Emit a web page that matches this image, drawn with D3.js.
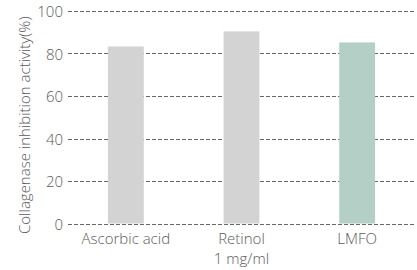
<!DOCTYPE html>
<html>
<head>
<meta charset="utf-8">
<script src="https://cdn.jsdelivr.net/npm/d3@7"></script>
<style>
  body { margin: 0; background: #fff; }
  text { font-family: "Open Sans", sans-serif; font-weight: 300; fill: #5a5a5a; }
</style>
</head>
<body>
<div id="vis"></div>
<script>
// Collagenase inhibition bar chart

var categories = ['Ascorbic acid', 'Retinol', 'LMFO'];
var values     = [83.3, 90.4, 85.2];
var yTicks     = [0, 20, 40, 60, 80, 100];
var xTitle     = '1 mg/ml';
var yTitle     = 'Collagenase inhibition activity(%)';

var W = 417, H = 270;
var margin = { top: 11, right: 2, bottom: 46.5, left: 68 };
var width  = W - margin.left - margin.right;
var height = H - margin.top  - margin.bottom;

var svg = d3.select('#vis').append('svg')
  .attr('width', W)
  .attr('height', H);

var vis = svg.append('g')
  .attr('transform', `translate(${margin.left},${margin.top})`);

var x = d3.scaleBand()
  .domain(categories)
  .range([0, width])
  .paddingInner(0.69)
  .paddingOuter(0.345);

var y = d3.scaleLinear()
  .domain([0, 100])
  .range([height, 0]);

// dashed gridlines
vis.append('g').selectAll('line')
  .data(yTicks)
  .join('line')
  .attr('x1', 0)
  .attr('x2', width)
  .attr('y1', d => Math.round(y(d)) + 0.5)
  .attr('y2', d => Math.round(y(d)) + 0.5)
  .attr('stroke', '#666')
  .attr('stroke-width', 1)
  .attr('stroke-dasharray', '4,2');

// y tick labels
vis.append('g').selectAll('text')
  .data(yTicks)
  .join('text')
  .attr('x', -5)
  .attr('y', d => y(d))
  .attr('dy', '0.42em')
  .attr('text-anchor', 'end')
  .style('font-size', '15px')
  .text(d => d);

// bars
vis.append('g').selectAll('rect')
  .data(values)
  .join('rect')
  .attr('x', (d, i) => x(categories[i]))
  .attr('width', x.bandwidth())
  .attr('y', d => y(d))
  .attr('height', d => height - y(d))
  .attr('fill', (d, i) => categories[i] === 'LMFO' ? '#b4d0c6' : '#d3d3d3');

// category labels
vis.append('g').selectAll('text')
  .data(categories)
  .join('text')
  .attr('x', d => x(d) + x.bandwidth() / 2)
  .attr('y', height + 20.5)
  .attr('text-anchor', 'middle')
  .style('font-size', '15px')
  .text(d => d);

// x title
vis.append('text')
  .attr('x', x('Retinol') + x.bandwidth() / 2)
  .attr('y', height + 40.5)
  .attr('text-anchor', 'middle')
  .style('font-size', '15px')
  .text(xTitle);

// y title
vis.append('text')
  .attr('transform', 'rotate(-90)')
  .attr('x', -(height / 2) - 8)
  .attr('y', -38)
  .attr('text-anchor', 'middle')
  .style('font-size', '15px')
  .text(yTitle);
</script>
</body>
</html>
